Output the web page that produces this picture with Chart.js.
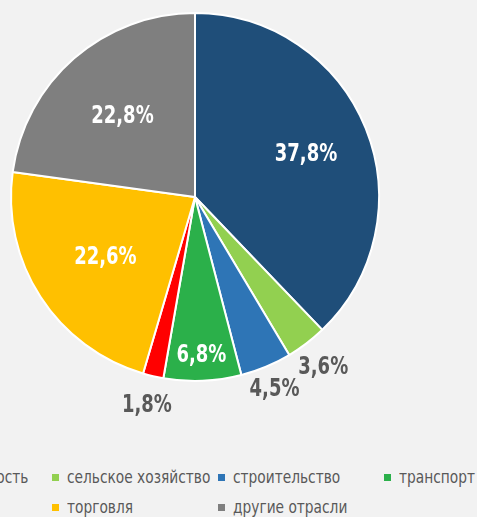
<!DOCTYPE html>
<html>
<head>
<meta charset="utf-8">
<script src="https://cdn.jsdelivr.net/npm/chart.js@4"></script>
<style>
    body { margin: 0; background: #f2f2f2; overflow: hidden; }
    #wrap { position: absolute; left: 0; top: 0; width: 477px; height: 440px; }
    #legend {
        position: absolute; left: -114px; top: 466px;
        display: grid; grid-template-columns: repeat(4, 166px); grid-auto-rows: 22px; row-gap: 8px;
        font-family: "DejaVu Sans Condensed", "DejaVu Sans", sans-serif;
        font-size: 18px; color: #595959; white-space: nowrap;
    }
    #legend .item { position: relative; height: 22px; }
    #legend .box { position: absolute; left: 0; top: 8px; width: 7px; height: 7px; }
    #legend .txt { position: absolute; left: 15px; top: 0; line-height: 22px; transform: scaleX(0.85); transform-origin: left center; }
</style>
</head>
<body>
<div id="wrap"><canvas id="pieChart"></canvas></div>
<div id="legend"></div>
<script>
// === СТРУКТУРА ПО ОТРАСЛЯМ ===
const categories = ["промышленность", "сельское хозяйство", "строительство", "транспорт", "связь", "торговля", "другие отрасли"];
const shares = [37.8, 3.6, 4.5, 6.8, 1.8, 22.6, 22.8];
const colors = ["#1f4e79", "#92d050", "#2e75b6", "#2bb04a", "#ff0000", "#ffc000", "#7f7f7f"];

// label placement: radius factor, inside (white) or outside (gray)
const labelRadius = [0.65, 1.15, 1.12, 0.85, 1.15, 0.58, 0.6];
const labelInside = [true, false, false, true, false, true, true];

const pieLabels = {
    id: "pieLabels",
    afterDatasetsDraw(chart) {
        const ctx = chart.ctx;
        const meta = chart.getDatasetMeta(0);
        meta.data.forEach((arc, i) => {
            const mid = (arc.startAngle + arc.endAngle) / 2;
            const r = arc.outerRadius * labelRadius[i];
            const x = arc.x + Math.cos(mid) * r;
            const y = arc.y + Math.sin(mid) * r;
            ctx.save();
            ctx.translate(x, y);
            ctx.scale(0.8, 1);   // narrower, like a condensed face
            ctx.font = "bold 25px 'DejaVu Sans Condensed', 'DejaVu Sans', sans-serif";
            ctx.textAlign = "center";
            ctx.textBaseline = "alphabetic";
            ctx.fillStyle = labelInside[i] ? "#ffffff" : "#595959";
            ctx.fillText(shares[i].toFixed(1).replace(".", ",") + "%", 0, 9);
            ctx.restore();
        });
    }
};

const pieChart = new Chart(document.getElementById("pieChart"), {
    type: "pie",
    data: {
        labels: categories,
        datasets: [{
            data: shares,
            backgroundColor: colors,
            borderColor: "#ffffff",
            borderWidth: 2
        }]
    },
    options: {
        responsive: true,
        maintainAspectRatio: false,
        animation: false,
        plugins: {
            legend: { display: false },
            tooltip: { enabled: false }
        },
        layout: {
            padding: { top: 12, bottom: 58, left: 10, right: 97 }
        }
    },
    plugins: [pieLabels]
});

// legend below, laid out in columns
const legendEl = document.getElementById("legend");
categories.forEach((name, i) => {
    const item = document.createElement("div");
    item.className = "item";
    item.innerHTML = '<span class="box" style="background:' + colors[i] + '"></span><span class="txt">' + name + '</span>';
    legendEl.appendChild(item);
});
</script>
</body>
</html>
